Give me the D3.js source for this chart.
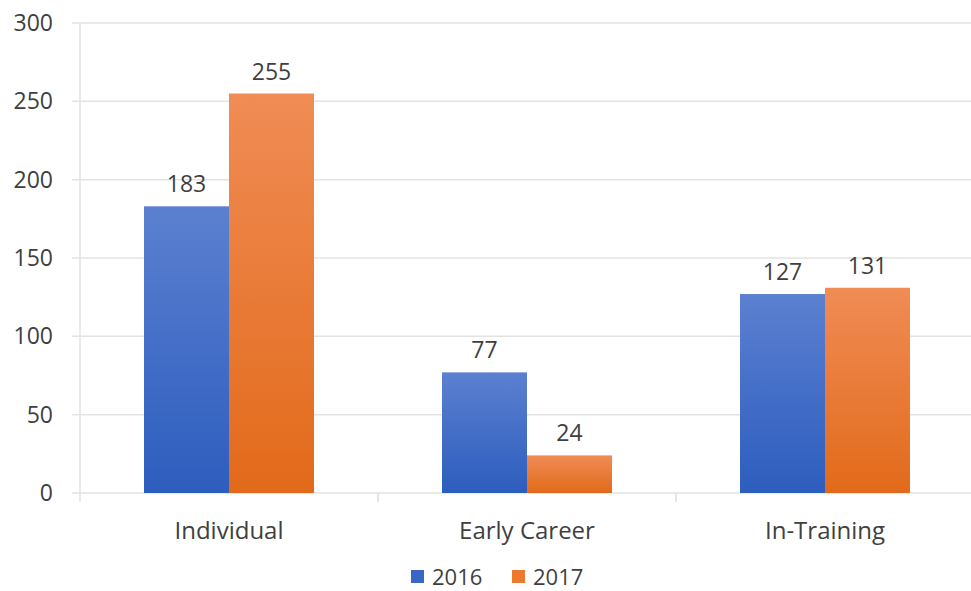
<!DOCTYPE html>
<html>
<head>
<meta charset="utf-8">
<script src="https://cdn.jsdelivr.net/npm/d3@7"></script>
<style>
  body { margin: 0; background: #fff; overflow: hidden; }
  text { font-family: "Open Sans", "Liberation Sans", sans-serif; fill: #3f3f3f; }
</style>
</head>
<body>
<div id="chart"></div>
<script>
const categories = ["Individual", "Early Career", "In-Training"];
const seriesNames = ["2016", "2017"];
const values2016 = [183, 77, 127];
const values2017 = [255, 24, 131];
const yTicks = [0, 50, 100, 150, 200, 250, 300];

const width = 971, height = 591;
const margin = { top: 23, right: -3, bottom: 98, left: 80 };

const svg = d3.select("#chart").append("svg")
  .attr("width", width)
  .attr("height", height)
  .style("display", "block");

// bar gradients, lighter at the top
const defs = svg.append("defs");
const grads = [
  { id: "g2016", top: "#5b80d0", bottom: "#2d5dbe" },
  { id: "g2017", top: "#f08c55", bottom: "#e26a1a" }
];
grads.forEach((g) => {
  const lg = defs.append("linearGradient").attr("id", g.id)
    .attr("x1", 0).attr("y1", 0).attr("x2", 0).attr("y2", 1);
  lg.append("stop").attr("offset", "0%").attr("stop-color", g.top);
  lg.append("stop").attr("offset", "100%").attr("stop-color", g.bottom);
});

const x = d3.scaleBand()
  .domain(categories)
  .range([margin.left, width - margin.right])
  .paddingInner(0)
  .paddingOuter(0);

const x1 = d3.scaleBand()
  .domain(seriesNames)
  .range([64, x.bandwidth() - 64]);

const y = d3.scaleLinear()
  .domain([0, 300])
  .range([height - margin.bottom, margin.top]);

// gridlines
svg.append("g")
  .selectAll("line")
  .data(yTicks)
  .join("line")
  .attr("x1", margin.left - 8)
  .attr("x2", width)
  .attr("y1", (d) => y(d))
  .attr("y2", (d) => y(d))
  .attr("stroke", "#e3e3e3")
  .attr("stroke-width", 1.5);

// vertical axis line
svg.append("line")
  .attr("x1", margin.left).attr("x2", margin.left)
  .attr("y1", y(300)).attr("y2", y(0) + 9)
  .attr("stroke", "#e3e3e3")
  .attr("stroke-width", 1.5);

// category separator ticks
svg.append("g")
  .selectAll("line")
  .data(categories.slice(1))
  .join("line")
  .attr("x1", (d) => x(d)).attr("x2", (d) => x(d))
  .attr("y1", y(0)).attr("y2", y(0) + 9)
  .attr("stroke", "#dcdcdc")
  .attr("stroke-width", 1.5);

// y labels
svg.append("g")
  .selectAll("text")
  .data(yTicks)
  .join("text")
  .attr("x", 53)
  .attr("y", (d) => y(d))
  .attr("dy", "0.35em")
  .attr("text-anchor", "end")
  .style("font-size", "23px")
  .text((d) => d);

const series = [values2016, values2017];

const groups = svg.append("g")
  .selectAll("g")
  .data(categories)
  .join("g")
  .attr("transform", (d) => `translate(${x(d)},0)`);

groups.selectAll("rect")
  .data((d, i) => seriesNames.map((s, j) => ({ s, v: series[j][i] })))
  .join("rect")
  .attr("x", (d) => x1(d.s))
  .attr("width", x1.bandwidth())
  .attr("y", (d) => y(d.v))
  .attr("height", (d) => y(0) - y(d.v))
  .attr("fill", (d) => `url(#g${d.s})`);

groups.selectAll("text.val")
  .data((d, i) => seriesNames.map((s, j) => ({ s, v: series[j][i] })))
  .join("text")
  .attr("class", "val")
  .attr("x", (d) => x1(d.s) + x1.bandwidth() / 2)
  .attr("y", (d) => y(d.v) - 14)
  .attr("text-anchor", "middle")
  .style("font-size", "23px")
  .text((d) => d.v);

// category labels
svg.append("g")
  .selectAll("text")
  .data(categories)
  .join("text")
  .attr("x", (d) => x(d) + x.bandwidth() / 2)
  .attr("y", 531)
  .attr("dy", "0.35em")
  .attr("text-anchor", "middle")
  .style("font-size", "24px")
  .text((d) => d);

// legend
const legendColors = ["#3a66c6", "#ee7a30"];
const legend = svg.append("g").attr("transform", "translate(411,570)");
const lx = [0, 101];
seriesNames.forEach((s, i) => {
  const g = legend.append("g").attr("transform", `translate(${lx[i]},0)`);
  g.append("rect").attr("width", 13).attr("height", 13).attr("fill", legendColors[i]);
  g.append("text").attr("x", 21).attr("y", 7).attr("dy", "0.35em")
    .style("font-size", "22px").text(s);
});
</script>
</body>
</html>
